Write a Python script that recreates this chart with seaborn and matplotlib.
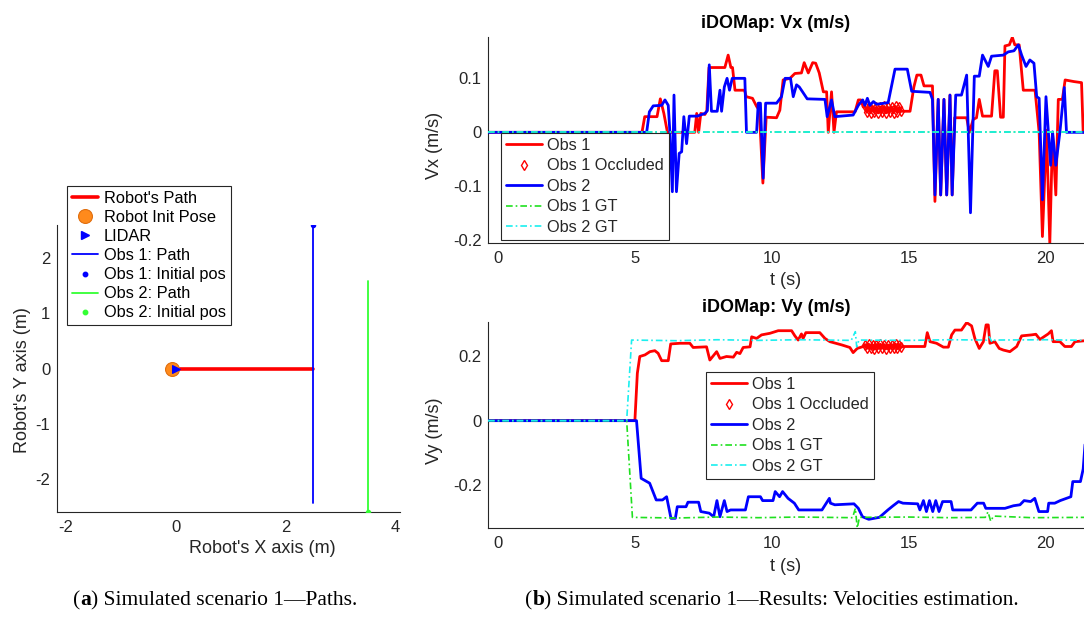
import numpy as np
import matplotlib
matplotlib.use("Agg")
import matplotlib.pyplot as plt
import seaborn as sns
from matplotlib.lines import Line2D
from matplotlib.offsetbox import TextArea, HPacker, AnchoredOffsetbox

# ---------------- DATA ----------------
# (a) paths
robot_path_x = [0.0, 2.5]
robot_path_y = [0.0, 0.0]
robot_init_x = [-0.06]
robot_init_y = [0.0]
lidar_x = [0.0]
lidar_y = [0.0]
obs1_path_x = [2.5, 2.5]
obs1_path_y = [2.6, -2.43]
obs1_init_x = [2.5]
obs1_init_y = [2.6]
obs2_path_x = [3.5, 3.5]
obs2_path_y = [-2.6, 1.58]
obs2_init_x = [3.5]
obs2_init_y = [-2.6]

# occluded samples of Obs 1
occ_t = [13.40, 13.47, 13.54, 13.61, 13.68, 13.75, 13.82, 13.89, 13.96, 14.03,
         14.10, 14.17, 14.24, 14.31, 14.38, 14.45, 14.52, 14.59, 14.66, 14.73]
occ_vx = [0.049, 0.037, 0.047, 0.036, 0.048, 0.038, 0.046, 0.036, 0.047, 0.037,
          0.048, 0.036, 0.046, 0.038, 0.047, 0.036, 0.048, 0.037, 0.046, 0.039]
occ_vy = [0.236, 0.224, 0.237, 0.225, 0.235, 0.223, 0.236, 0.224, 0.237, 0.225,
          0.236, 0.223, 0.235, 0.224, 0.236, 0.225, 0.237, 0.224, 0.235, 0.228]

# Vx Obs 1 (before / after occlusion)
vx1_t_a = [-0.38, 5.25, 5.35, 5.80, 5.92, 6.05, 6.18, 7.18, 7.25, 7.32, 7.40, 7.55, 7.62,
           7.70, 8.28, 8.40, 8.50, 8.56, 8.65, 9.00, 9.06, 9.29, 9.44, 9.54, 9.67, 9.79,
           10.17, 10.29, 10.41, 10.66, 10.84, 11.08, 11.18, 11.33, 11.49, 11.60, 11.73,
           11.88, 12.00, 12.06, 12.18, 12.27, 12.36, 13.04, 13.16, 13.25, 13.34]
vx1_a = [0.0, 0.0, 0.029, 0.029, 0.062, 0.035, 0.0, 0.0, 0.035, 0.0, 0.035, 0.033, 0.040,
         0.120, 0.120, 0.143, 0.120, 0.120, 0.078, 0.078, 0.066, 0.063, 0.048, 0.041, -0.094, 0.028,
         0.027, 0.041, 0.097, 0.100, 0.109, 0.110, 0.129, 0.110, 0.129, 0.128, 0.110,
         0.075, 0.075, 0.0, 0.075, 0.0, 0.038, 0.038, 0.060, 0.060, 0.047]
vx1_t_b = [14.90, 15.05, 15.19, 15.30, 15.45, 15.56, 15.87, 15.96, 16.08, 16.17, 16.29,
           16.39, 16.51, 16.59, 16.68, 17.12, 17.22, 17.36, 17.48, 17.58, 17.70, 18.03,
           18.15, 18.24, 18.36, 18.46, 18.52, 18.68, 18.79, 18.88, 19.04, 19.19, 19.62,
           19.77, 19.89, 20.04, 20.16, 20.26, 20.38, 20.47, 20.62, 20.72, 21.04, 21.32,
           21.38, 21.45]
vx1_b = [0.039, 0.039, 0.084, 0.106, 0.106, 0.086, 0.086, -0.128, 0.061, -0.116, 0.061,
         -0.116, 0.069, -0.116, 0.027, 0.027, 0.0, 0.024, 0.027, 0.061, 0.030, 0.030,
         0.114, 0.114, 0.028, 0.028, 0.160, 0.162, 0.176, 0.162, 0.162, 0.078, 0.078,
         0.0, -0.193, 0.004, -0.206, -0.002, -0.116, 0.061, 0.061, 0.097, 0.094, 0.092,
         0.0, 0.0]

# Vx Obs 2
vx2_t = [-0.38, 5.42, 5.52, 5.66, 5.97, 6.09, 6.21, 6.27, 6.36, 6.42, 6.51, 6.61, 6.70,
         6.78, 6.88, 6.98, 7.27, 7.55, 7.64, 7.71, 7.79, 8.00, 8.10, 8.16, 8.26, 8.36,
         8.45, 8.55, 9.01, 9.07, 9.44, 9.50, 9.58, 9.68, 9.77, 10.17, 10.35, 10.48, 10.68,
         10.78, 10.90, 11.00, 11.12, 11.29, 11.94, 12.02, 12.18, 12.30, 12.97, 13.16,
         13.32, 13.40, 13.49, 13.58, 13.71, 13.83, 14.25, 14.50, 14.95, 15.11, 15.78,
         15.87, 15.96, 16.08, 16.17, 16.29, 16.39, 16.51, 16.59, 16.72, 16.93, 17.12,
         17.26, 17.40, 17.58, 17.70, 17.91, 18.03, 18.46, 18.64, 18.85, 19.01, 19.13,
         19.29, 19.43, 19.58, 19.68, 19.77, 19.89, 20.02, 20.19, 20.26, 20.38, 20.53,
         20.69, 20.77, 21.45]
vx2 = [0.0, 0.0, 0.038, 0.049, 0.050, 0.060, 0.050, 0.0, -0.110, 0.069, -0.110, -0.039, -0.036,
       0.029, -0.021, 0.030, 0.030, 0.035, 0.040, 0.125, 0.039, 0.039, 0.078, 0.039, 0.084, 0.100,
       0.078, 0.100, 0.100, 0.0, 0.0, 0.054, 0.054, -0.085, 0.054, 0.054, 0.066, 0.100, 0.100,
       0.066, 0.088, 0.084, 0.075, 0.062, 0.061, 0.029, 0.060, 0.029, 0.032, 0.050,
       0.060, 0.050, 0.063, 0.050, 0.057, 0.052, 0.055, 0.117, 0.117, 0.076, 0.074,
       0.061, -0.116, 0.061, -0.116, 0.061, -0.116, 0.069, -0.116, 0.069, 0.069, 0.106,
       -0.149, 0.104, 0.104, 0.143, 0.122, 0.141, 0.143, 0.149, 0.151, 0.162, 0.143,
       0.122, 0.134, 0.128, 0.066, 0.063, -0.125, 0.066, -0.061, 0.001, -0.061, 0.001,
       0.083, 0.0, 0.0]

# Vx ground truth (both obstacles move only along y)
gt_vx_t = [-0.38, 21.45]
gt1_vx = [0.0, 0.0]
gt2_vx = [0.0, 0.0]

# Vy Obs 1 (before / after occlusion)
vy1_t_a = [-0.38, 4.99, 5.08, 5.17, 5.36, 5.54, 5.72, 5.84, 5.97, 6.21, 6.30, 6.64, 7.00,
           7.12, 7.61, 7.73, 7.98, 8.10, 8.34, 8.59, 8.71, 8.83, 8.95, 9.20, 9.26, 9.44,
           9.62, 9.93, 10.23, 10.41, 10.72, 10.84, 10.96, 11.08, 11.14, 11.24, 11.75,
           11.94, 12.12, 12.55, 12.85, 12.97, 13.12, 13.34]
vy1_a = [0.0, 0.0, 0.147, 0.199, 0.204, 0.214, 0.217, 0.209, 0.186, 0.186, 0.238, 0.240, 0.240,
         0.227, 0.229, 0.188, 0.214, 0.193, 0.199, 0.197, 0.212, 0.208, 0.227, 0.229, 0.260, 0.255,
         0.266, 0.271, 0.279, 0.279, 0.279, 0.263, 0.250, 0.269, 0.255, 0.273, 0.273,
         0.255, 0.245, 0.235, 0.227, 0.211, 0.224, 0.230]
vy1_t_b = [14.80, 15.59, 15.68, 15.78, 16.02, 16.27, 16.45, 16.57, 16.69, 16.93, 17.12,
           17.30, 17.42, 17.58, 17.73, 17.83, 17.91, 17.97, 18.15, 18.31, 18.46, 18.70,
           18.95, 19.13, 19.49, 19.65, 19.80, 20.10, 20.22, 20.28, 20.53, 20.71, 20.95,
           21.08, 21.45]
vy1_b = [0.230, 0.230, 0.273, 0.245, 0.240, 0.228, 0.228, 0.266, 0.281, 0.281, 0.304,
         0.294, 0.255, 0.224, 0.245, 0.297, 0.297, 0.240, 0.245, 0.224, 0.219, 0.214,
         0.230, 0.263, 0.266, 0.268, 0.252, 0.269, 0.279, 0.245, 0.245, 0.230, 0.230,
         0.245, 0.248]

# Vy Obs 2
vy2_t = [-0.38, 5.05, 5.22, 5.53, 5.77, 6.00, 6.15, 6.31, 6.47, 6.54, 6.86, 6.93, 7.32,
         7.40, 7.71, 7.87, 7.99, 8.10, 8.26, 8.36, 8.49, 9.03, 9.14, 9.58, 9.66, 10.04,
         10.12, 10.28, 10.39, 10.59, 10.82, 10.98, 11.83, 12.10, 12.14, 12.30, 13.00,
         13.16, 13.31, 13.54, 13.93, 14.24, 14.43, 14.63, 14.79, 15.33, 15.41, 15.54,
         15.65, 15.76, 15.88, 15.99, 16.11, 16.24, 16.55, 16.61, 17.28, 17.51, 17.74,
         17.82, 18.52, 18.83, 19.07, 19.22, 19.46, 19.61, 19.76, 20.08, 20.12, 20.34,
         20.54, 20.93, 21.00, 21.28, 21.38, 21.45]
vy2 = [0.0, 0.0, -0.179, -0.194, -0.246, -0.246, -0.236, -0.303, -0.303, -0.267, -0.267, -0.253, -0.253,
       -0.282, -0.287, -0.298, -0.248, -0.298, -0.248, -0.282, -0.277, -0.277, -0.236, -0.236, -0.248, -0.248,
       -0.220, -0.236, -0.220, -0.241, -0.256, -0.277, -0.277, -0.241, -0.256, -0.261, -0.258,
       -0.272, -0.298, -0.306, -0.300, -0.277, -0.264, -0.251, -0.256, -0.258, -0.277, -0.248,
       -0.282, -0.248, -0.282, -0.248, -0.282, -0.251, -0.251, -0.277, -0.277, -0.256, -0.256,
       -0.272, -0.272, -0.264, -0.261, -0.248, -0.251, -0.241, -0.282, -0.282, -0.256, -0.256,
       -0.248, -0.236, -0.189, -0.189, -0.150, -0.070]

# Vy ground truth
gt1_vy_t = [-0.38, 4.69, 4.90, 6.5, 8.0, 9.5, 11.0, 12.95, 13.05, 13.12, 13.20, 15.0, 16.5,
            17.80, 17.90, 18.00, 18.10, 19.5, 21.45]
gt1_vy = [0.0, 0.0, -0.300, -0.302, -0.299, -0.301, -0.299, -0.301, -0.272, -0.333, -0.300,
          -0.299, -0.301, -0.300, -0.283, -0.312, -0.296, -0.301, -0.300]
gt2_vy_t = [-0.38, 4.69, 4.87, 6.5, 8.0, 9.5, 11.0, 12.90, 13.05, 13.10, 13.18, 15.0, 16.5,
            17.85, 17.95, 18.05, 18.15, 20.0, 21.45]
gt2_vy = [0.0, 0.0, 0.250, 0.248, 0.251, 0.249, 0.251, 0.249, 0.276, 0.229, 0.250, 0.249,
          0.251, 0.250, 0.260, 0.243, 0.250, 0.251, 0.249]

t_ticks = [0, 5, 10, 15, 20]
vx_ticks = [-0.2, -0.1, 0, 0.1]
vx_ticklabels = ["-0.2", "-0.1", "0", "0.1"]
vy_ticks = [-0.2, 0, 0.2]
vy_ticklabels = ["-0.2", "0", "0.2"]
xy_ticks_x = [-2, 0, 2, 4]
xy_ticks_y = [-2, -1, 0, 1, 2]
legend_paths = ["Robot's Path", "Robot Init Pose", "LIDAR", "Obs 1: Path",
                "Obs 1: Initial pos", "Obs 2: Path", "Obs 2: Initial pos"]
legend_vel = ["Obs 1", "Obs 1 Occluded", "Obs 2", "Obs 1 GT", "Obs 2 GT"]

# ---------------- STYLE ----------------
sns.set_theme(style="white")
plt.rcParams["font.family"] = ["Liberation Sans", "DejaVu Sans"]
plt.rcParams["axes.unicode_minus"] = False

DARK = (0.15, 0.15, 0.15)
RED = "#FF0000"
BLUE = "#0000FF"
GREEN = "#1FE01F"
GREEN_PATH = "#33FF33"
CYAN = "#1AEFEF"
ORANGE = "#FF8A1C"
ORANGE_E = "#E06E0E"
DASHDOT = (0, (4, 1.8, 1, 1.8))
FS_TICK = 12
FS_LABEL = 13
FS_TITLE = 13
FS_LEG_L = 11.8
FS_LEG_R = 11.7
FS_CAP = 15.5

W, H = 1084, 619
fig = plt.figure(figsize=(W / 100, H / 100), dpi=100)


def frac(x0, y0, x1, y1):
    return [x0 / W, 1 - y1 / H, (x1 - x0) / W, (y1 - y0) / H]


axL = fig.add_axes(frac(56.7, 225, 400, 512.3))
axT = fig.add_axes(frac(488, 37.3, W, 243))
axB = fig.add_axes(frac(488, 322, W, 528))


def style(ax):
    for s in ["top", "right"]:
        ax.spines[s].set_visible(False)
    for s in ["left", "bottom"]:
        ax.spines[s].set_color(DARK)
        ax.spines[s].set_linewidth(0.8)
    ax.tick_params(direction="in", length=4, width=0.8, color=DARK,
                   labelcolor=DARK, labelsize=FS_TICK)
    ax.tick_params(axis="x", pad=5.5)
    ax.tick_params(axis="y", pad=4.5)
    ax.grid(False)
    ax.set_facecolor("white")


def line(ax, x, y, **kw):
    sns.lineplot(x=x, y=y, ax=ax, estimator=None, sort=False, legend=False,
                 errorbar=None, **kw)


# ---------------- (a) paths ----------------
line(axL, robot_path_x, robot_path_y, color=RED, linewidth=2.6, zorder=3)
line(axL, obs1_path_x, obs1_path_y, color=BLUE, linewidth=1.3, zorder=3)
line(axL, obs2_path_x, obs2_path_y, color=GREEN_PATH, linewidth=1.3, zorder=3)
line(axL, robot_init_x, robot_init_y, linestyle="", marker="o", markersize=10,
     markerfacecolor=ORANGE, markeredgecolor=ORANGE_E, markeredgewidth=0.8, zorder=4)
line(axL, lidar_x, lidar_y, linestyle="", marker=">", markersize=6,
     markerfacecolor=BLUE, markeredgecolor=BLUE, zorder=5)
line(axL, obs1_init_x, obs1_init_y, linestyle="", marker="o", markersize=3.2,
     markerfacecolor=BLUE, markeredgecolor=BLUE, zorder=5)
line(axL, obs2_init_x, obs2_init_y, linestyle="", marker="o", markersize=3.2,
     markerfacecolor=GREEN_PATH, markeredgecolor=GREEN_PATH, zorder=5)
style(axL)
axL.set_xlim(-2.16, 4.08)
axL.set_ylim(-2.6, 2.6)
axL.set_xticks(xy_ticks_x)
axL.set_xticklabels([str(v) for v in xy_ticks_x])
axL.set_yticks(xy_ticks_y)
axL.set_yticklabels([str(v) for v in xy_ticks_y])
axL.set_xlabel("Robot's X axis (m)", fontsize=FS_LABEL, color=DARK)
axL.set_ylabel("Robot's Y axis (m)", fontsize=FS_LABEL, color=DARK)
axL.xaxis.set_label_coords(0.6, -0.096)
axL.yaxis.set_label_coords(-0.076, 0.46)

hL = [Line2D([], [], color=RED, lw=2.6),
      Line2D([], [], ls="", marker="o", ms=10, mfc=ORANGE, mec=ORANGE_E, mew=0.8),
      Line2D([], [], ls="", marker=">", ms=6, mfc=BLUE, mec=BLUE),
      Line2D([], [], color=BLUE, lw=1.3),
      Line2D([], [], ls="", marker="o", ms=3.2, mfc=BLUE, mec=BLUE),
      Line2D([], [], color=GREEN_PATH, lw=1.3),
      Line2D([], [], ls="", marker="o", ms=3.2, mfc=GREEN_PATH, mec=GREEN_PATH)]
legL = axL.legend(hL, legend_paths, loc="upper left",
                  bbox_to_anchor=(67 / W, 1 - 186 / H), bbox_transform=fig.transFigure,
                  borderaxespad=0, frameon=True, fancybox=False, framealpha=1,
                  edgecolor=DARK, fontsize=FS_LEG_L, handlelength=1.6,
                  handletextpad=0.35, labelspacing=0.25, borderpad=0.3)
legL.get_frame().set_linewidth(0.8)
for txt in legL.get_texts():
    txt.set_color("black")


# ---------------- (b) velocities ----------------
def vel_panel(ax, t1, v1, t2, v2, occ_v, g1t, g1, g2t, g2):
    line(ax, t1, v1, color=RED, linewidth=2.0, zorder=2)
    line(ax, occ_t, occ_v, linestyle="", marker="d", markersize=5,
         markerfacecolor="none", markeredgecolor=RED, markeredgewidth=1.0, zorder=3)
    line(ax, t2, v2, color=BLUE, linewidth=2.0, zorder=4)
    line(ax, g1t, g1, color=GREEN, linewidth=1.2, linestyle=DASHDOT, zorder=5)
    line(ax, g2t, g2, color=CYAN, linewidth=1.2, linestyle=DASHDOT, zorder=6)
    style(ax)
    ax.set_xlim(-0.38, 21.41)
    ax.set_xticks(t_ticks)
    ax.set_xticklabels([str(v) for v in t_ticks])
    ax.set_xlabel("t (s)", fontsize=FS_LABEL, color=DARK)


vx1_t = vx1_t_a + occ_t + vx1_t_b
vx1 = vx1_a + occ_vx + vx1_b
vy1_t = vy1_t_a + occ_t + vy1_t_b
vy1 = vy1_a + occ_vy + vy1_b

vel_panel(axT, vx1_t, vx1, vx2_t, vx2, occ_vx, gt_vx_t, gt1_vx, gt_vx_t, gt2_vx)
axT.set_ylim(-0.205, 0.176)
axT.set_yticks(vx_ticks)
axT.set_yticklabels(vx_ticklabels)
axT.set_ylabel("Vx (m/s)", fontsize=FS_LABEL, color=DARK)
axT.xaxis.set_label_coords(0.5, -0.141)
axT.yaxis.set_label_coords(-0.0755, 0.476)
axT.text(0.483, 1.0695, "iDOMap: Vx (m/s)", transform=axT.transAxes, ha="center",
         va="center", fontsize=FS_TITLE, fontweight="bold", color="black")

vel_panel(axB, vy1_t, vy1, vy2_t, vy2, occ_vy, gt1_vy_t, gt1_vy, gt2_vy_t, gt2_vy)
axB.set_ylim(-0.333, 0.306)
axB.set_yticks(vy_ticks)
axB.set_yticklabels(vy_ticklabels)
axB.set_ylabel("Vy (m/s)", fontsize=FS_LABEL, color=DARK)
axB.xaxis.set_label_coords(0.5, -0.146)
axB.yaxis.set_label_coords(-0.0755, 0.471)
axB.text(0.483, 1.068, "iDOMap: Vy (m/s)", transform=axB.transAxes, ha="center",
         va="center", fontsize=FS_TITLE, fontweight="bold", color="black")

hR = [Line2D([], [], color=RED, lw=2.0),
      Line2D([], [], ls="", marker="d", ms=5, mfc="none", mec=RED, mew=1.0),
      Line2D([], [], color=BLUE, lw=2.0),
      Line2D([], [], color=GREEN, lw=1.2, ls=DASHDOT),
      Line2D([], [], color=CYAN, lw=1.2, ls=DASHDOT)]
for ax, (lx, ly) in [(axT, (501, 133)), (axB, (706, 372))]:
    lg = ax.legend(hR, legend_vel, loc="upper left",
                   bbox_to_anchor=(lx / W, 1 - ly / H), bbox_transform=fig.transFigure,
                   borderaxespad=0, frameon=True, fancybox=False, framealpha=1,
                   edgecolor=DARK, fontsize=FS_LEG_R, handlelength=2.2,
                   handletextpad=0.35, labelspacing=0.34, borderpad=0.3)
    lg.get_frame().set_linewidth(0.8)
    lg.set_zorder(10)


# ---------------- captions ----------------
def caption(xc, yc, letter, rest):
    tp = dict(fontfamily=["Liberation Serif", "DejaVu Serif"], fontsize=FS_CAP, color="black")
    tb = dict(tp, fontweight="bold")
    box = HPacker(children=[TextArea("(", textprops=tp), TextArea(letter, textprops=tb),
                            TextArea(") " + rest, textprops=tp)],
                  align="baseline", pad=0, sep=0)
    ab = AnchoredOffsetbox(loc="center", child=box, pad=0, borderpad=0, frameon=False,
                           bbox_to_anchor=(xc / W, 1 - yc / H),
                           bbox_transform=fig.transFigure)
    fig.add_artist(ab)


caption(215, 600, "a", "Simulated scenario 1\u2014Paths.")
caption(772, 600, "b", "Simulated scenario 1\u2014Results: Velocities estimation.")

fig.savefig("out.png", dpi=100, facecolor="white")
